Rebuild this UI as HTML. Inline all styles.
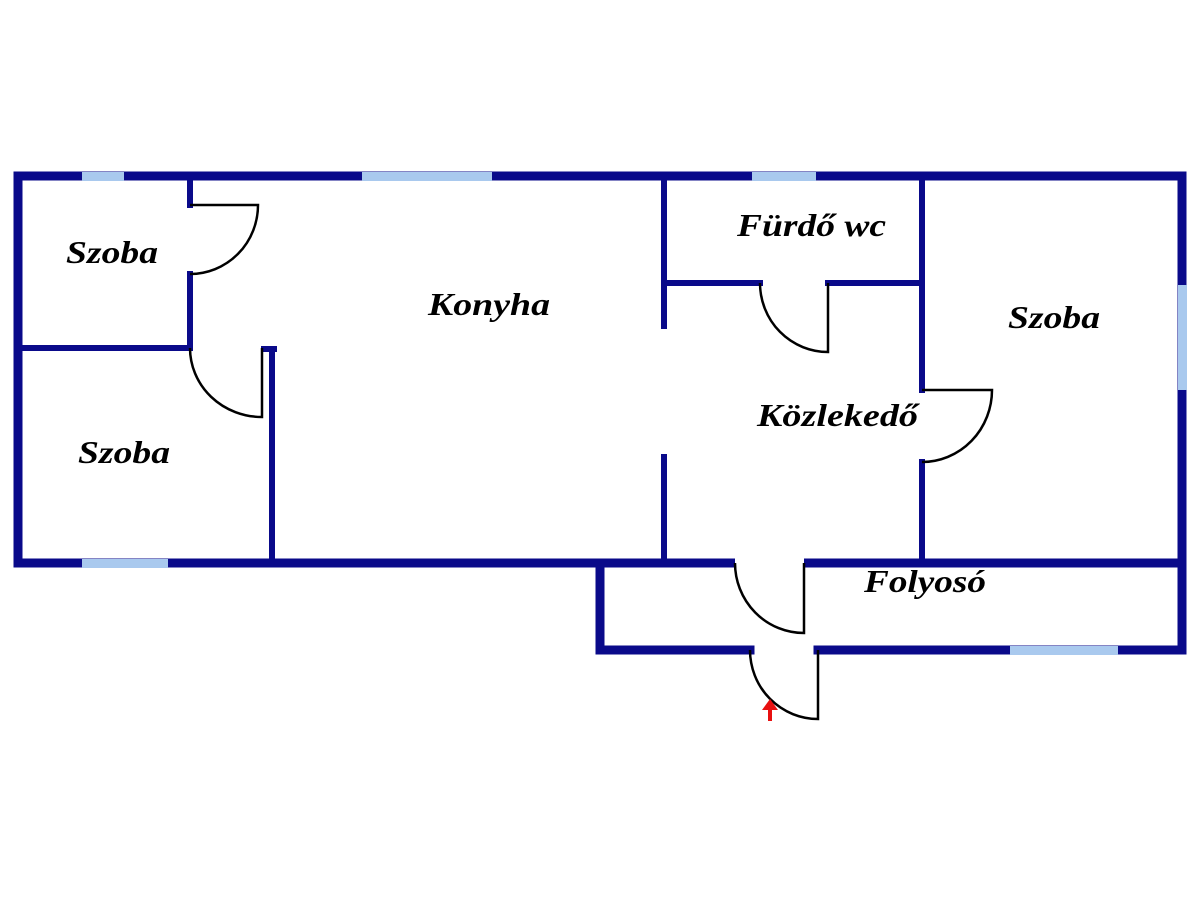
<!DOCTYPE html>
<html><head><meta charset="utf-8"><style>
html,body{margin:0;padding:0;background:#fff;}
svg{display:block;}
text{font-family:"Liberation Serif",serif;font-weight:bold;font-style:italic;font-size:32px;fill:#000;}
</style></head><body>
<svg width="1200" height="900" viewBox="0 0 1200 900" xmlns="http://www.w3.org/2000/svg">
<rect width="1200" height="900" fill="#fff"/>
<g stroke="#0a0a8a" stroke-linecap="square" fill="none">
  <!-- outer walls -->
  <g stroke-width="9">
    <line x1="18" y1="176" x2="1182" y2="176"/>
    <line x1="18" y1="176" x2="18" y2="563"/>
    <line x1="18" y1="563" x2="1182" y2="563"/>
    <line x1="1182" y1="176" x2="1182" y2="650"/>
    <line x1="600" y1="568" x2="600" y2="650"/>
    <line x1="600" y1="650" x2="750" y2="650"/>
    <line x1="818" y1="650" x2="1182" y2="650"/>
  </g>
  <!-- interior walls -->
  <g stroke-width="6">
    <line x1="190" y1="176" x2="190" y2="205"/>
    <line x1="190" y1="274" x2="190" y2="348"/>
    <line x1="18" y1="348" x2="190" y2="348"/>
    <line x1="272" y1="350" x2="272" y2="563"/>
    <line x1="264" y1="349" x2="274" y2="349"/>
    <line x1="664" y1="176" x2="664" y2="326"/>
    <line x1="664" y1="457" x2="664" y2="563"/>
    <line x1="664" y1="283" x2="760" y2="283"/>
    <line x1="828" y1="283" x2="922" y2="283"/>
    <line x1="922" y1="176" x2="922" y2="390"/>
    <line x1="922" y1="462" x2="922" y2="563"/>
  </g>
</g>
<!-- door gap in corridor wall -->
<rect x="735" y="557" width="69" height="12" fill="#fff"/>
<!-- windows -->
<g fill="#a9c9ee">
  <rect x="82" y="172" width="42" height="9"/>
  <rect x="362" y="172" width="130" height="9"/>
  <rect x="752" y="172" width="64" height="9"/>
  <rect x="1178" y="285" width="9" height="105"/>
  <rect x="82" y="559" width="86" height="9"/>
  <rect x="1010" y="646" width="108" height="9"/>
</g>
<!-- doors -->
<g stroke="#000" stroke-width="2.5" fill="none">
  <path d="M190 205 H258 A68 69 0 0 1 190 274"/>
  <path d="M262 348 V417 A72 69 0 0 1 190 348"/>
  <path d="M828 283 V352 A68 69 0 0 1 760 283"/>
  <path d="M922 390 H992 A70 72 0 0 1 922 462"/>
  <path d="M804 563 V633 A69 70 0 0 1 735 563"/>
  <path d="M818 650 V719 A68 69 0 0 1 750 650"/>
</g>
<!-- entrance arrow -->
<g fill="#e81010">
  <polygon points="770,699 762,710 778,710"/>
  <rect x="768" y="709" width="4" height="12"/>
</g>
<!-- labels -->
<text x="66" y="263" textLength="92" lengthAdjust="spacingAndGlyphs">Szoba</text>
<text x="78" y="463" textLength="92" lengthAdjust="spacingAndGlyphs">Szoba</text>
<text x="428" y="315" textLength="122" lengthAdjust="spacingAndGlyphs">Konyha</text>
<text x="737" y="236" textLength="149" lengthAdjust="spacingAndGlyphs">Fürdő wc</text>
<text x="1008" y="328" textLength="92" lengthAdjust="spacingAndGlyphs">Szoba</text>
<text x="757" y="426" textLength="161" lengthAdjust="spacingAndGlyphs">Közlekedő</text>
<text x="864" y="592" textLength="122" lengthAdjust="spacingAndGlyphs">Folyosó</text>
</svg>
</body></html>
